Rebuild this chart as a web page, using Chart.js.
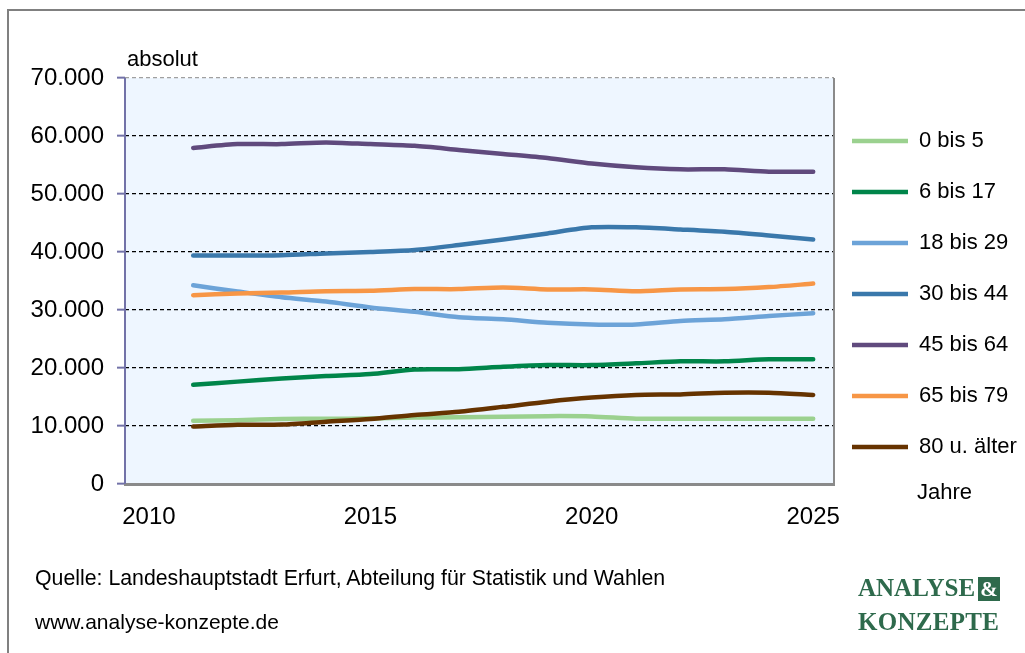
<!DOCTYPE html>
<html lang="de">
<head>
<meta charset="utf-8">
<title>Bevölkerung nach Altersgruppen</title>
<script src="https://cdn.jsdelivr.net/npm/chart.js@4.4.1/dist/chart.umd.min.js"></script>
<style>
  body { margin: 0; background: #fff; font-family: "Liberation Sans", Arial, sans-serif; }
  #wrap { position: relative; width: 1025px; height: 653px; overflow: hidden; }
  #frame { position: absolute; left: 7px; top: 9px; width: 1030px; height: 660px;
           border-left: 2px solid #808080; border-top: 2px solid #808080; }
  canvas { position: absolute; left: 0; top: 0; }
  .txt { position: absolute; color: #000; white-space: nowrap; }
  .logo { position: absolute; left: 858px; font-family: "Liberation Serif", "Times New Roman", serif;
          font-weight: bold; font-size: 25px; color: #2e6a4c; line-height: 1; white-space: nowrap; }
  .amp { background: #2e6a4c; color: #fff; padding: 0 2px; margin-left: 3px; font-size: 21px; }
</style>
</head>
<body>
<div id="wrap">
  <div id="frame"></div>
  <canvas id="chart" width="1025" height="653"></canvas>
  <div class="txt" style="left:127px; top:46px; font-size:22px;">absolut</div>
  <div class="txt" style="left:917px; top:479px; font-size:22px;">Jahre</div>
  <div class="txt" style="left:35px; top:566px; font-size:21.3px;">Quelle: Landeshauptstadt Erfurt, Abteilung für Statistik und Wahlen</div>
  <div class="txt" style="left:35px; top:610px; font-size:21px;">www.analyse-konzepte.de</div>
  <div class="logo" style="top:575px;">ANALYSE<span class="amp">&amp;</span></div>
  <div class="logo" style="top:609px; letter-spacing:0.3px;">KONZEPTE</div>
</div>
<script>
// Jahre (Prognose ab ca. 2015)
const years = [2011, 2012, 2013, 2014, 2015, 2016, 2017, 2018, 2019, 2020, 2021, 2022, 2023, 2024, 2025];
const xTicks = [2010, 2015, 2020, 2025];
const yTicks = [0, 10000, 20000, 30000, 40000, 50000, 60000, 70000];

const groups = ["0 bis 5", "6 bis 17", "18 bis 29", "30 bis 44", "45 bis 64", "65 bis 79", "80 u. älter"];
const colors = ["#9bd18f", "#00854a", "#6ca3d8", "#3a78ab", "#604a7d", "#f79646", "#663300"];

const age0to5   = [10900, 11000, 11200, 11250, 11300, 11450, 11500, 11600, 11700, 11650, 11250, 11250, 11250, 11250, 11250];
const age6to17  = [17100, 17650, 18200, 18600, 18950, 19750, 19800, 20200, 20500, 20500, 20800, 21150, 21150, 21500, 21500];
const age18to29 = [34250, 33200, 32200, 31450, 30450, 29700, 28750, 28400, 27800, 27500, 27500, 28100, 28400, 28950, 29450];
const age30to44 = [39400, 39400, 39450, 39750, 40000, 40350, 41200, 42150, 43200, 44250, 44250, 43900, 43500, 42850, 42150];
const age45to64 = [57950, 58600, 58600, 58900, 58600, 58300, 57600, 56900, 56200, 55250, 54600, 54250, 54250, 53850, 53850];
const age65to79 = [32550, 32850, 33000, 33250, 33300, 33600, 33600, 33900, 33550, 33550, 33250, 33550, 33600, 33950, 34550];
const age80plus = [9900, 10200, 10250, 10750, 11200, 11900, 12450, 13300, 14200, 14900, 15350, 15450, 15750, 15750, 15350];

const series = [age0to5, age6to17, age18to29, age30to44, age45to64, age65to79, age80plus];

const formatDe = function(v) {
  return String(v).replace(/\B(?=(\d{3})+(?!\d))/g, ".");
}

const datasets = groups.map(function(name, i) {
  return {
    label: name,
    data: years.map((y, j) => ({ x: y, y: series[i][j] })),
    borderColor: colors[i],
    backgroundColor: colors[i],
    borderWidth: 4.5,
    borderCapStyle: "round",
    borderJoinStyle: "round",
    pointRadius: 0,
    tension: 0.25,
    order: groups.length - i   // spätere Reihen oben wie in Excel
  };
});

// Hintergrund der Zeichenfläche, linke Achse und rechter Rand
const plotArea = {
  id: "plotArea",
  beforeDraw(chart) {
    const a = chart.chartArea, ctx = chart.ctx;
    ctx.save();
    ctx.fillStyle = "#eef6ff";
    ctx.fillRect(a.left, a.top, a.right - a.left, a.bottom - a.top);
    ctx.restore();
  },
  beforeDatasetsDraw(chart) {
    const a = chart.chartArea, ctx = chart.ctx;
    ctx.save();
    ctx.lineWidth = 2;
    ctx.strokeStyle = "#8a8a8a";
    ctx.beginPath();
    ctx.moveTo(a.right, a.top);
    ctx.lineTo(a.right, a.bottom);
    ctx.stroke();
    ctx.strokeStyle = "#7272a8";
    ctx.beginPath();
    ctx.moveTo(a.left, a.top);
    ctx.lineTo(a.left, a.bottom);
    ctx.stroke();
    ctx.restore();
  },
  afterLayout(chart) {
    // Legende etwas näher an die Zeichenfläche
    const lg = chart.legend;
    lg.left -= 11;
    lg.top += 3; lg.bottom += 3;
  }
};

const ctx = document.getElementById("chart").getContext("2d");
const chart = new Chart(ctx, {
  type: "line",
  data: { datasets: datasets },
  options: {
    responsive: false,
    animation: false,
    layout: { padding: { top: 78, left: 0, right: 0, bottom: 129 } },
    plugins: {
      legend: {
        position: "right",
        align: "end",
        fullSize: false,
        maxWidth: 191,
        labels: {
          usePointStyle: true,
          pointStyle: "line",
          pointStyleWidth: 56,
          boxWidth: 56,
          padding: 29,
          color: "#000",
          font: { family: "Liberation Sans", size: 22 },
          sort: (a, b) => a.datasetIndex - b.datasetIndex
        }
      },
      tooltip: { enabled: false }
    },
    scales: {
      x: {
        type: "linear",
        min: 2009.46,
        max: 2025.47,
        afterBuildTicks: scale => { scale.ticks = xTicks.map(v => ({ value: v })); },
        afterFit: scale => { scale.height = 40; },
        grid: { display: false, drawTicks: false },
        border: { color: "#8a8a8a", width: 3 },
        ticks: {
          padding: 19,
          color: "#000",
          maxRotation: 0,
          font: { family: "Liberation Sans", size: 24 },
          callback: v => String(v)
        }
      },
      y: {
        min: 0,
        max: 70000,
        afterBuildTicks: scale => { scale.ticks = yTicks.map(v => ({ value: v })); },
        afterFit: scale => { scale.width = 125; },
        grid: {
          color: c => c.tick.value === 70000 ? "#a0a0a0" : (c.tick.value === 0 ? "rgba(0,0,0,0)" : "#000"),
          lineWidth: 1.3,
          tickLength: 8,
          tickColor: "#7272a8",
          tickWidth: 2,
          tickBorderDash: []
        },
        border: { display: false, dash: [4, 3] },
        ticks: {
          padding: 13,
          color: "#000",
          font: { family: "Liberation Sans", size: 24 },
          callback: v => formatDe(v)
        }
      }
    }
  },
  plugins: [plotArea]
});
</script>
</body>
</html>
